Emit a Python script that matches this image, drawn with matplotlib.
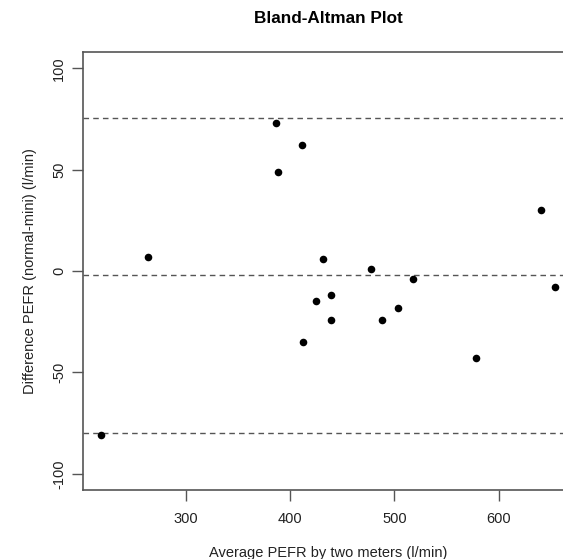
import numpy as np
import matplotlib.pyplot as plt

plt.rcParams['font.family'] = ['Liberation Sans', 'DejaVu Sans']

# PEFR readings (l/min), large Wright meter vs mini Wright meter
normal = [494, 395, 516, 434, 476, 557, 413, 442, 650, 433, 417, 656, 267, 478, 178, 423, 427]
mini = [512, 430, 520, 428, 500, 600, 364, 380, 658, 445, 432, 626, 260, 477, 259, 350, 451]
x_ticks = [300, 400, 500, 600]
y_ticks = [-100, -50, 0, 50, 100]

normal = np.array(normal)
mini = np.array(mini)
avg = (normal + mini) / 2
diff = normal - mini
md = diff.mean()
sd = diff.std(ddof=1)

fig = plt.figure(figsize=(5.63, 5.59), dpi=100)
W, H = 563, 559
ax = fig.add_axes([83 / W, (H - 490) / H, 490 / W, 438 / H])

ax.scatter(avg, diff, s=30, color='black', zorder=3, linewidths=0)
for yv in (md, md + 2 * sd, md - 2 * sd):
    ax.axhline(yv, color='#555555', lw=1, ls=(0, (4, 3)), zorder=2)

pad = 0.04 * (avg.max() - avg.min())
ax.set_xlim(avg.min() - pad, avg.max() + pad)
ax.set_ylim(-108, 108)
ax.set_xticks(x_ticks)
ax.set_yticks(y_ticks)
ax.set_yticklabels([str(t) for t in y_ticks], rotation=90, va='center')

for s in ax.spines.values():
    s.set_color('#555555')
    s.set_linewidth(1.2)
ax.tick_params(colors='#555555', labelcolor='#222222', length=8, width=1,
               labelsize=10.5)
ax.tick_params(axis='x', pad=8)
ax.tick_params(axis='y', pad=4)

ax.set_xlabel('Average PEFR by two meters (l/min)', fontsize=10.5, color='#222222', labelpad=14)
ax.set_ylabel('Difference PEFR (normal-mini) (l/min)', fontsize=10.5, color='#222222', labelpad=11)
ax.set_title('Bland-Altman Plot', fontsize=12.3, fontweight='bold', pad=21)

fig.savefig('out.png', dpi=100)
